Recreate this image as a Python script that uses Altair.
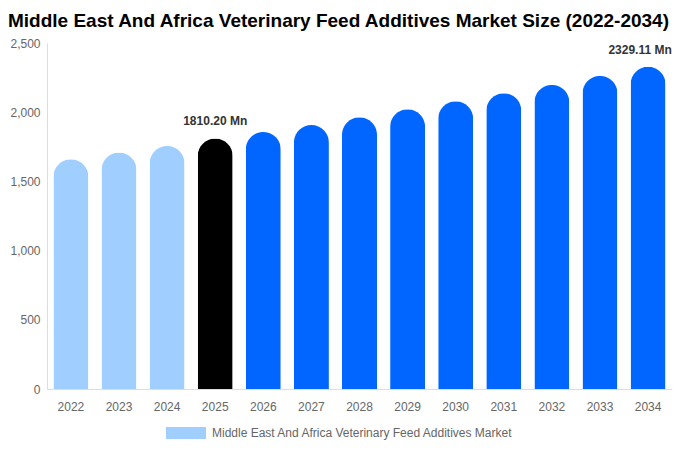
import altair as alt
import pandas as pd

years = ["2022", "2023", "2024", "2025", "2026", "2027", "2028", "2029", "2030", "2031", "2032", "2033", "2034"]
values = [1660, 1708, 1756, 1810.20, 1857, 1907, 1963, 2021, 2079, 2137, 2197, 2262, 2329.11]
labels = ["", "", "", "1810.20 Mn", "", "", "", "", "", "", "", "", "2329.11 Mn"]
series_name = "Middle East And Africa Veterinary Feed Additives Market"
y_ticks = [0, 500, 1000, 1500, 2000, 2500]

df = pd.DataFrame({"year": years, "value": values, "label": labels, "series": series_name})

FONT = "Liberation Sans"

x_enc = alt.X(
    "year:N",
    sort=years,
    scale=alt.Scale(paddingInner=0.285, paddingOuter=0.14),
    axis=alt.Axis(
        title=None, labelAngle=0, ticks=False, domainColor="#dddddd",
        labelColor="#666666", labelFontSize=12, labelPadding=12, labelFont=FONT,
    ),
)
y_enc = alt.Y(
    "value:Q",
    scale=alt.Scale(domain=[0, 2500], nice=False),
    axis=alt.Axis(
        title=None, values=y_ticks, format=",.0f", ticks=False, grid=False,
        domainColor="#dddddd", labelColor="#666666", labelFontSize=12,
        labelPadding=7, labelFont=FONT,
    ),
)

bars = alt.Chart(df).mark_bar(
    cornerRadiusTopLeft=17.5, cornerRadiusTopRight=17.5, size=35
).encode(
    x=x_enc,
    y=y_enc,
    color=alt.Color(
        "series:N",
        scale=alt.Scale(range=["#a0cfff"]),
        condition=[
            {"test": "datum.year == '2025'", "value": "#000000"},
            {"test": "toNumber(datum.year) > 2025", "value": "#0066ff"},
        ],
        legend=alt.Legend(
            title=None, orient="none", legendX=119, legendY=370,
            symbolType="M-1,-0.3H1V0.3H-1Z", symbolSize=1600,
            symbolStrokeWidth=0, labelFontSize=12, labelColor="#666666",
            labelFont=FONT, labelOffset=6, labelLimit=600,
        ),
    ),
)

text_mid = alt.Chart(df).transform_filter("datum.label != '' && datum.year != '2034'").mark_text(
    fontSize=12, fontWeight="bold", color="#333333", baseline="bottom", dy=-10, font=FONT
).encode(
    x=alt.X("year:N", sort=years),
    y=alt.Y("value:Q"),
    text="label:N",
)

text_last = alt.Chart(df).transform_filter("datum.label != '' && datum.year == '2034'").mark_text(
    fontSize=12, fontWeight="bold", color="#333333", baseline="bottom", dy=-10, dx=-8, font=FONT
).encode(
    x=alt.X("year:N", sort=years),
    y=alt.Y("value:Q"),
    text="label:N",
)

chart = alt.layer(bars, text_mid, text_last).properties(
    width=625,
    height=346,
    autosize=alt.AutoSizeParams(type="none"),
    padding={"left": 39, "top": 35, "right": 0, "bottom": 51},
    title=alt.TitleParams(
        "Middle East And Africa Veterinary Feed Additives Market Size (2022-2034)",
        fontSize=19, fontWeight="bold", color="#000000", font=FONT,
        anchor="middle", dx=-21, offset=6,
    ),
).configure_view(stroke=None)

chart.save("out.html", embed_options={"renderer": "svg", "actions": False})
